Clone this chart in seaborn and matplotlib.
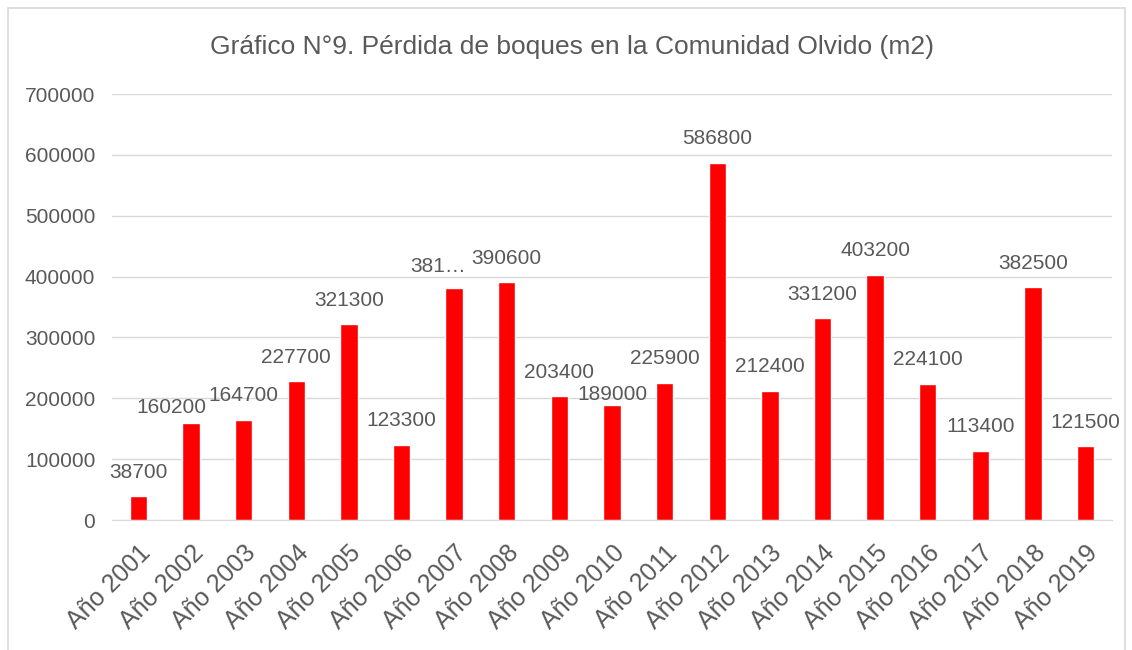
import pandas as pd
import seaborn as sns
import matplotlib.pyplot as plt
from matplotlib.patches import Rectangle

sns.set_style('white')
plt.rcParams['font.family'] = ['Liberation Sans', 'DejaVu Sans']

years = ['Año 2001', 'Año 2002', 'Año 2003', 'Año 2004', 'Año 2005', 'Año 2006',
         'Año 2007', 'Año 2008', 'Año 2009', 'Año 2010', 'Año 2011', 'Año 2012',
         'Año 2013', 'Año 2014', 'Año 2015', 'Año 2016', 'Año 2017', 'Año 2018',
         'Año 2019']
loss = [38700, 160200, 164700, 227700, 321300, 123300, 381000, 390600, 203400,
        189000, 225900, 586800, 212400, 331200, 403200, 224100, 113400, 382500,
        121500]
labels = [str(v) for v in loss]
labels[6] = '381…'  # truncated in the original

df = pd.DataFrame({'anio': years, 'perdida': loss})

# label offsets in pixels (Excel nudged a few labels to avoid collisions)
offsets = [(0, 24)] * len(years)
offsets[1] = (-20, 15)
offsets[6] = (-16, 22)
offsets[9] = (0, 10)

txt = '#595959'
fig = plt.figure(figsize=(11.32, 6.5), dpi=100)
ax = fig.add_axes([112 / 1132, 130 / 650, 1000 / 1132, 426 / 650])

sns.barplot(data=df, x='anio', y='perdida', color='#ff0000', saturation=1,
            width=0.33, ax=ax)

ax.set_ylim(0, 700000)
ax.set_xlim(-0.5, len(years) - 0.5)
ax.set_yticks(range(0, 700001, 100000))
ax.grid(axis='y', color='#d9d9d9', linewidth=1)
ax.set_axisbelow(True)
for s in ['top', 'right', 'left']:
    ax.spines[s].set_visible(False)
ax.spines['bottom'].set_color('#d9d9d9')
ax.tick_params(axis='y', length=0, labelsize=15, labelcolor=txt, pad=12)
ax.tick_params(axis='x', length=0, labelsize=18, labelcolor=txt, pad=15)
plt.setp(ax.get_xticklabels(), rotation=45, ha='right', rotation_mode='anchor')
ax.set_xlabel('')
ax.set_ylabel('')

for i, (v, lab) in enumerate(zip(loss, labels)):
    ax.annotate(lab, (i, v), xytext=offsets[i], textcoords='offset pixels',
                ha='center', va='center', fontsize=15, color=txt)

fig.text(572 / 1132, 1 - 47 / 650, 'Gráfico N°9. Pérdida de boques en la Comunidad Olvido (m2)',
         ha='center', va='center', fontsize=19, color=txt)

fig.patches.append(Rectangle((8 / 1132, -0.1), 1117 / 1132, 1.1 - 8 / 650,
                             transform=fig.transFigure, fill=False,
                             edgecolor='#d9d9d9', linewidth=1.2))

fig.savefig('out.png', dpi=100)
